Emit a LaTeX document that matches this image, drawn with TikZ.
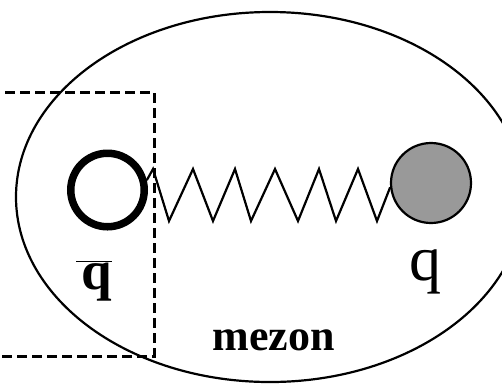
\documentclass[tikz,border=0pt]{standalone}
\usepackage{fontspec}
\setmainfont{Liberation Serif}
\definecolor{qgray}{RGB}{153,153,153}
\tikzset{
  thinline/.style={line width=2.2pt},
  quarkopen/.style={circle, draw, line width=7.5pt, minimum size=73.5pt, inner sep=0pt},
  quarkfull/.style={circle, draw, line width=2.2pt, fill=qgray, minimum size=80pt, inner sep=0pt},
  lbl/.style={anchor=base, inner sep=0pt}
}
\begin{document}
\begin{tikzpicture}[x=1pt,y=-1pt,line join=miter]
\useasboundingbox (0,0) rectangle (502,384);
\clip (0,0) rectangle (502,384);
\draw[thinline] (270,197) ellipse [x radius=254, y radius=185];
\draw[line width=3pt, dash pattern=on 10pt off 5pt] (-10,92) -- (154,92) -- (154,356) -- (-10,356);
\node[quarkopen] (qa) at (107.5,190) {};
\node[quarkfull] (qb) at (431,183) {};
\draw[thinline] (qa.14) -- (153,169) -- (169,221) -- (193,169) -- (213,221) -- (235,169) -- (251,221)
  -- (275,169) -- (298,221) -- (319,169) -- (336,221) -- (358,169) -- (377,221) -- (qb.186);
\node[lbl, font=\fontsize{55}{60}\selectfont\bfseries] (lqbar) at (94,289) {$\overline{\mbox{\hspace{5pt}q}}$};
\node[lbl, font=\fontsize{64}{70}\selectfont] (lq) at (425,280) {q};
\node[lbl, font=\fontsize{44}{50}\selectfont\bfseries] (lmezon) at (273.5,350) {mezon};
\end{tikzpicture}
\end{document}
